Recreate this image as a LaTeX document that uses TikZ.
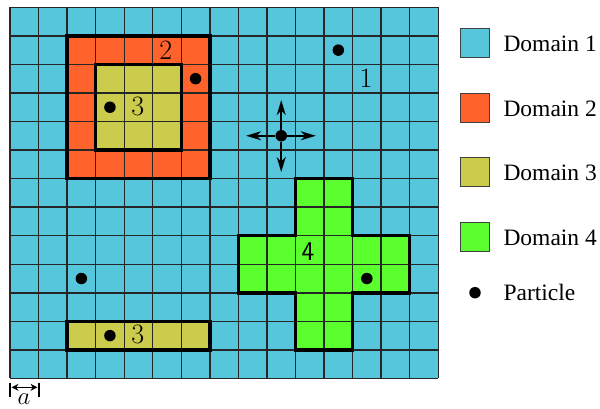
\documentclass[tikz,border=0pt]{standalone}
\usepackage{fontspec}
\newfontfamily\legfont{Liberation Serif}
\usetikzlibrary{arrows.meta}
\definecolor{dom1}{RGB}{86,198,221}
\definecolor{dom2}{RGB}{255,99,43}
\definecolor{dom3}{RGB}{204,204,76}
\definecolor{dom4}{RGB}{92,255,46}
\begin{document}
\begin{tikzpicture}[x=1pt,y=-1pt,
  particle/.style={circle,fill=black,inner sep=0pt,minimum size=11.5pt},
  domlabel/.style={font=\fontsize{28}{30}\selectfont, inner sep=0pt},
  legbox/.style={draw=black!75, line width=1.2pt, minimum size=29pt, inner sep=0pt},
  legtext/.style={font=\legfont\fontsize{23.5}{26}\selectfont, anchor=base west, inner sep=0pt},
  dborder/.style={line width=3.5pt, draw=black, line join=miter},
  gridline/.style={line width=1.4pt, draw=black!85},
  movearrow/.style={line width=1.5pt, -{Stealth[length=15pt,width=9pt,inset=4.5pt]}}]
\useasboundingbox (0,0) rectangle (600,409);
\begin{scope}[shift={(10,7.3)}, x=28.55pt, y=-28.55pt]
  % fills
  \fill[dom1] (0,0) rectangle (15,13);
  \fill[dom2] (2,1) rectangle (7,6);
  \fill[dom3] (3,2) rectangle (6,5);
  \fill[dom3] (2,11) rectangle (7,12);
  \fill[dom4] (10,6) -- (12,6) -- (12,8) -- (14,8) -- (14,10) -- (12,10) -- (12,12)
     -- (10,12) -- (10,10) -- (8,10) -- (8,8) -- (10,8) -- cycle;
  % grid
  \foreach \i in {0,...,15} { \draw[gridline] (\i,0) -- (\i,13); }
  \foreach \j in {0,...,13} { \draw[gridline] (0,\j) -- (15,\j); }
  % domain borders
  \draw[dborder] (2,1) rectangle (7,6);
  \draw[dborder] (3,2) rectangle (6,5);
  \draw[dborder] (2,11) rectangle (7,12);
  \draw[dborder] (10,6) -- (12,6) -- (12,8) -- (14,8) -- (14,10) -- (12,10) -- (12,12)
     -- (10,12) -- (10,10) -- (8,10) -- (8,8) -- (10,8) -- cycle;
  % labels
  \node[domlabel] (l2) at (5.46,1.5) {2};
  \node[domlabel] (l3a) at (4.48,3.46) {3};
  \node[domlabel] (l1) at (12.47,2.5) {1};
  \node[domlabel, font=\sffamily\fontsize{27}{30}\selectfont] (l4) at (10.44,8.55) {4};
  \node[domlabel] (l3b) at (4.48,11.46) {3};
  % particles
  \node[particle] (p1) at (6.5,2.5) {};
  \node[particle] (p2) at (3.5,3.5) {};
  \node[particle] (p3) at (11.5,1.5) {};
  \node[particle] (pc) at (9.5,4.5) {};
  \node[particle] (p5) at (2.5,9.5) {};
  \node[particle] (p6) at (3.5,11.5) {};
  \node[particle] (p7) at (12.5,9.5) {};
  % arrows of the moving particle
  \coordinate (cl) at (8.27,4.5);
  \coordinate (cr) at (10.71,4.5);
  \coordinate (cu) at (9.5,3.25);
  \coordinate (cd) at (9.5,5.77);
  \draw[movearrow] (pc.west) -- (cl);
  \draw[movearrow] (pc.east) -- (cr);
  \draw[movearrow] (pc.north) -- (cu);
  \draw[movearrow] (pc.south) -- (cd);
\end{scope}
% scale bar
\coordinate (sb1) at (10,382.5);
\coordinate (sb1b) at (10,396.5);
\coordinate (sb2) at (39,382.5);
\coordinate (sb2b) at (39,396.5);
\coordinate (sa1) at (11.5,387.3);
\coordinate (sa2) at (37.5,387.3);
\draw[line width=2.6pt] (sb1) -- (sb1b);
\draw[line width=2.6pt] (sb2) -- (sb2b);
\draw[line width=1.3pt, {Stealth[length=7pt,width=7pt]}-{Stealth[length=7pt,width=7pt]}] (sa1) -- (sa2);
\node[anchor=base, inner sep=0pt, font=\fontsize{31}{33}\selectfont] (alab) at (24,404.5) {$a$};
% legend
\node[legbox, fill=dom1] (lg1) at (475.3,43) {};
\node[legbox, fill=dom2] (lg2) at (475.3,107.8) {};
\node[legbox, fill=dom3] (lg3) at (475.3,172.2) {};
\node[legbox, fill=dom4] (lg4) at (475.3,236.7) {};
\node[particle] (lgp) at (475,292.7) {};
\node[legtext] (lt1) at (503.3,51.7) {Domain 1};
\node[legtext] (lt2) at (503.3,116.5) {Domain 2};
\node[legtext] (lt3) at (503.3,180.9) {Domain 3};
\node[legtext] (lt4) at (503.3,245.4) {Domain 4};
\node[legtext] (lt5) at (503.3,300.2) {Particle};
\end{tikzpicture}
\end{document}
